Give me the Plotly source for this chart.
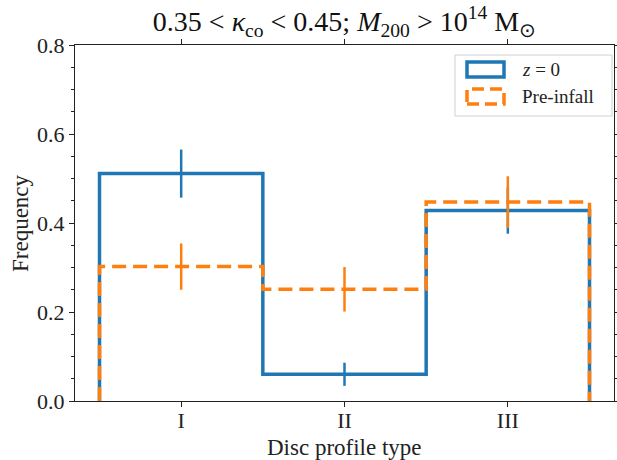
import plotly.graph_objects as go

categories = ["I", "II", "III"]
z0_freq = [0.511, 0.060, 0.428]
z0_err = [0.054, 0.026, 0.052]
pre_freq = [0.302, 0.251, 0.447]
pre_err = [0.052, 0.050, 0.058]
y_ticks = [0.0, 0.2, 0.4, 0.6, 0.8]

BLUE = "#1f77b4"
ORANGE = "#ff7f0e"
FONT = "Liberation Serif"

W, H = 617, 460
ML, MR, MT, MB = 75, 3, 45, 59


def step_xy(vals):
    xs, ys = [-0.5], [0.0]
    for i, v in enumerate(vals):
        xs += [i - 0.5, i + 0.5]
        ys += [v, v]
    xs.append(len(vals) - 0.5)
    ys.append(0.0)
    return xs, ys


pos = list(range(len(categories)))
fig = go.Figure()

bx, by = step_xy(z0_freq)
fig.add_trace(go.Scatter(x=bx, y=by, mode="lines",
                         line=dict(color=BLUE, width=3.5), showlegend=False))
fig.add_trace(go.Scatter(x=pos, y=z0_freq, mode="markers",
                         marker=dict(size=0.1, color=BLUE),
                         error_y=dict(type="data", array=z0_err, color=BLUE,
                                      thickness=2.5, width=0),
                         showlegend=False))
ox, oy = step_xy(pre_freq)
fig.add_trace(go.Scatter(x=ox, y=oy, mode="lines",
                         line=dict(color=ORANGE, width=3.5, dash="14px,7px"),
                         showlegend=False))
fig.add_trace(go.Scatter(x=pos, y=pre_freq, mode="markers",
                         marker=dict(size=0.1, color=ORANGE),
                         error_y=dict(type="data", array=pre_err, color=ORANGE,
                                      thickness=2.5, width=0),
                         showlegend=False))

pw = W - ML - MR
ph = H - MT - MB


def px(xp):
    return (xp - ML) / pw


def py(yp):
    return (H - MB - yp) / ph


shapes = [
    dict(type="rect", xref="paper", yref="paper",
         x0=px(455), x1=px(612), y0=py(116), y1=py(55),
         line=dict(color="#d0d0d0", width=1), fillcolor="rgba(255,255,255,0.8)"),
    dict(type="rect", xref="paper", yref="paper",
         x0=px(467), x1=px(504), y0=py(77), y1=py(62),
         line=dict(color=BLUE, width=3.5)),
    dict(type="rect", xref="paper", yref="paper",
         x0=px(467), x1=px(504), y0=py(104), y1=py(89),
         line=dict(color=ORANGE, width=3.5, dash="12px,6px")),
]
annotations = [
    dict(xref="paper", yref="paper", x=px(520), y=py(69.5), xanchor="left",
         yanchor="middle", showarrow=False, text="<i>z</i> = 0",
         font=dict(family=FONT, size=19, color="#222")),
    dict(xref="paper", yref="paper", x=px(520), y=py(96.5), xanchor="left",
         yanchor="middle", showarrow=False, text="Pre-infall",
         font=dict(family=FONT, size=19, color="#222")),
    dict(xref="paper", yref="paper", x=0.5, y=py(447), xanchor="center",
         yanchor="middle", showarrow=False, text="Disc profile type",
         font=dict(family=FONT, size=23, color="#222")),
    dict(xref="paper", yref="paper", x=px(20), y=0.5, xanchor="center",
         yanchor="middle", showarrow=False, text="Frequency", textangle=-90,
         font=dict(family=FONT, size=23, color="#222")),
]

fig.update_layout(
    width=W, height=H,
    margin=dict(l=ML, r=MR, t=MT, b=MB, autoexpand=False),
    plot_bgcolor="white", paper_bgcolor="white",
    font=dict(family=FONT, size=22, color="#222"),
    title=dict(text="0.35&nbsp;&lt;&nbsp;<i>κ</i><sub>co</sub>&nbsp;&lt;&nbsp;0.45; <i>M</i><sub>200</sub>&nbsp;&gt;&nbsp;10<sup>14</sup>&nbsp;M<sub>⊙</sub>",
               x=0.5, xref="paper", xanchor="center", y=1 - 21 / H, yanchor="middle",
               font=dict(family=FONT, size=28, color="#111")),
    shapes=shapes, annotations=annotations,
    xaxis=dict(range=[-0.65, 2.65], tickvals=pos, ticktext=categories,
               showgrid=False, zeroline=False, showline=True, linecolor="#222",
               linewidth=1.2, mirror="ticks", ticks="outside", ticklen=5,
               tickcolor="#222", tickfont=dict(size=22), automargin=False,
               ticklabelstandoff=-6),
    yaxis=dict(range=[0, 0.8], tickvals=y_ticks,
               ticktext=[f"{v:.1f}" for v in y_ticks],
               showgrid=False, zeroline=False, showline=True, linecolor="#222",
               linewidth=1.2, mirror="ticks", ticks="outside", ticklen=5,
               tickcolor="#222", tickfont=dict(size=22), automargin=False,
               minor=dict(dtick=0.05, ticks="outside", ticklen=3, tickcolor="#222",
                          showgrid=False)),
)

fig.write_html("out.html", config={"displayModeBar": False},
               post_script="document.body.style.margin='0px';document.body.style.padding='0px';")
